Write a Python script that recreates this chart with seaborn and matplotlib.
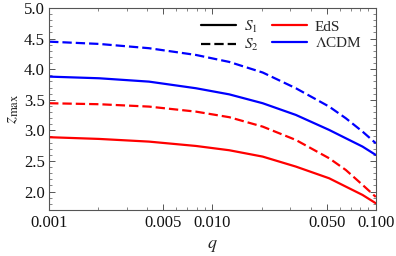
import numpy as np
import pandas as pd
import matplotlib
matplotlib.use("Agg")
import matplotlib.pyplot as plt
import seaborn as sns
from matplotlib.lines import Line2D
from matplotlib.ticker import FixedLocator, NullFormatter, MultipleLocator

q = [0.001, 0.00202, 0.00409, 0.00792, 0.01267, 0.0203, 0.0324, 0.0518, 0.0655, 0.0829, 0.1]
eds_s1 = [2.888, 2.860, 2.816, 2.745, 2.675, 2.571, 2.408, 2.217, 2.081, 1.945, 1.809]
eds_s2 = [3.443, 3.427, 3.388, 3.306, 3.215, 3.061, 2.843, 2.544, 2.353, 2.110, 1.912]
lcdm_s1 = [3.878, 3.851, 3.796, 3.688, 3.588, 3.443, 3.252, 3.007, 2.871, 2.735, 2.598]
lcdm_s2 = [4.449, 4.412, 4.342, 4.232, 4.118, 3.945, 3.688, 3.388, 3.198, 2.980, 2.789]

x_ticks = [0.001, 0.005, 0.010, 0.050, 0.100]
x_tick_labels = ["0.001", "0.005", "0.010", "0.050", "0.100"]
y_ticks = [2.0, 2.5, 3.0, 3.5, 4.0, 4.5, 5.0]

sns.set_style("ticks")
plt.rcParams['font.family'] = ['Liberation Serif', 'DejaVu Serif']
plt.rcParams['mathtext.fontset'] = 'stix'

rows = []
for model, sc, vals in [("EdS", "S1", eds_s1), ("EdS", "S2", eds_s2),
                        ("LCDM", "S1", lcdm_s1), ("LCDM", "S2", lcdm_s2)]:
    for xi, yi in zip(q, vals):
        rows.append({"q": xi, "z": yi, "model": model, "case": sc})
df = pd.DataFrame(rows)

DASH = (4.2, 1.8)
LW = 1.6

fig = plt.figure(figsize=(3.96, 2.56), dpi=100)
ax = fig.add_axes([0.124, 0.18, 0.825, 0.789])

sns.lineplot(data=df, x="q", y="z", hue="model", style="case",
             palette={"EdS": "#ff0000", "LCDM": "#0000ff"},
             dashes={"S1": "", "S2": DASH}, linewidth=LW,
             legend=False, ax=ax, sort=True)
for ln in ax.get_lines():
    ln.set_solid_joinstyle("round")
    ln.set_dash_joinstyle("round")

ax.set_xscale("log")
ax.set_xlim(0.001, 0.1)
ax.set_ylim(1.7, 5.0)
ax.xaxis.set_major_locator(FixedLocator(x_ticks))
ax.set_xticklabels(x_tick_labels)
minors = [m * 10.0**e for e in (-3, -2) for m in range(2, 10)]
minors = [v for v in minors if v not in x_ticks]
ax.xaxis.set_minor_locator(FixedLocator(minors))
ax.xaxis.set_minor_formatter(NullFormatter())
ax.set_yticks(y_ticks)
ax.set_yticklabels([f"{v:.1f}" for v in y_ticks])
ax.yaxis.set_minor_locator(MultipleLocator(0.1))

frame_c = "#555555"
for s in ax.spines.values():
    s.set_color(frame_c)
    s.set_linewidth(0.8)
ax.tick_params(which="both", direction="in", top=True, right=True, color=frame_c,
               labelsize=12, labelcolor="#111111")
ax.tick_params(which="major", length=4, width=0.7)
ax.tick_params(which="minor", length=2, width=0.5)
ax.tick_params(axis="x", pad=4)
ax.tick_params(axis="y", pad=3)

ax.set_xlabel("$q$", fontsize=13, labelpad=4)
ax.set_ylabel(r"$z_{\mathrm{max}}$", fontsize=13, labelpad=2)

handles = [Line2D([], [], color="black", lw=LW),
           Line2D([], [], color="black", lw=LW, dashes=DASH),
           Line2D([], [], color="#ff0000", lw=LW),
           Line2D([], [], color="#0000ff", lw=LW)]
labels = ["$S_1$", "$S_2$", "EdS", r"$\Lambda$CDM"]
ax.legend(handles, labels, ncol=2, frameon=False, loc="upper right",
          bbox_to_anchor=(1.0, 1.015), fontsize=11, handlelength=2.3,
          columnspacing=0.9, handletextpad=0.5, labelspacing=0.15)

fig.savefig("out.png", dpi=100)
